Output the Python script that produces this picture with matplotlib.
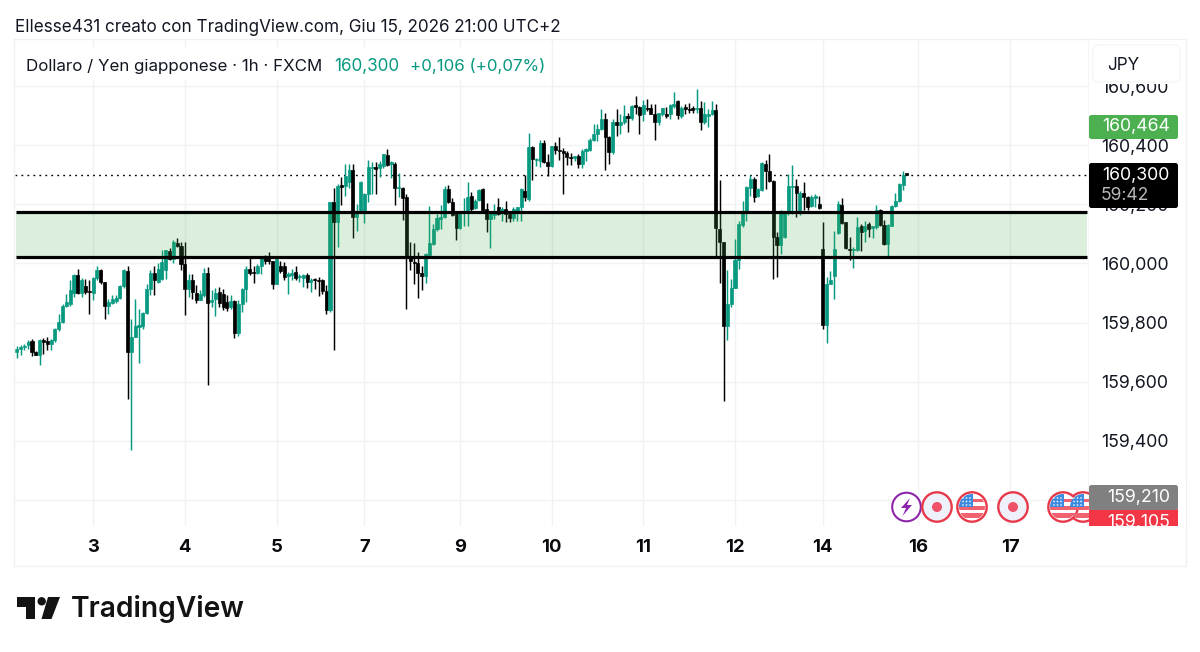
import matplotlib
matplotlib.use('Agg')
import matplotlib.pyplot as plt
from matplotlib.patches import Circle, FancyBboxPatch, Polygon, Rectangle
import numpy as np

plt.rcParams['font.family'] = ['Inter', 'DejaVu Sans']

# prices as offset from 160000 (thousandths of a yen)
BASE = 160000
opens = [-299,-290,-284,-276,-262,-301,-308,-260,-263,-271,
         -260,-223,-198,-144,-138,-100,-40,-100,-76,-93,
         -100,-48,-21,-61,-145,-134,-128,-116,-77,-24,
         -301,-248,-215,-212,-166,-85,-33,-63,-52,-21,
         42,16,70,58,-1,-85,-57,-99,-122,-108,
         -33,-130,-119,-97,-102,-130,-147,-127,-235,-138,
         -85,-18,-29,-33,-7,24,16,7,-69,-7,
         -9,-44,-40,-29,-46,-48,-40,-63,-54,-55,
         -57,-93,
         -159,207,139,265,263,274,316,158,
         179,181,235,323,327,323,330,367,336,338,
         255,257,224,23,6,2,-33,-44,30,66,
         115,151,158,252,207,173,120,170,176,229,
         188,215,252,184,151,165,192,170,184,167,
         154,179,190,246,218,394,350,347,409,342,
         330,396,383,379,375,361,356,364,338,379,
         383,418,437,454,490,429,378,479,467,479,
         499,491,536,529,505,527,525,507,480,505,
         505,505,533,550,499,529,521,525,524,527,
         480,499,505,518,117,72,-211,-136,-82,12,
         131,173,257,285,227,249,336,313,280,89,
         61,89,170,260,263,173,240,224,195,221,
         201,49,-207,-69,-41,102,199,139,49,44,
         44,126,111,134,120,122,181,131,66,128,
         195,210,266,306]
closes = [-288,-282,-279,-265,-299,-308,-260,-265,-273,-260,
          -223,-198,-144,-130,-91,-40,-99,-57,-97,-96,
          -48,-21,-63,-145,-130,-119,-116,-77,-21,-301,
          -248,-212,-209,-166,-85,-33,-57,-18,5,44,
          16,72,58,-1,-85,-57,-97,-125,-104,-33,
          -133,-125,-100,-133,-147,-151,-127,-235,-138,-85,
          -18,-33,-33,-7,21,8,8,-69,16,-27,
          -46,-37,-31,-48,-42,-39,-63,-55,-57,-60,
          -94,-158,
          207,139,263,260,297,316,158,176,
          274,235,327,327,319,336,370,334,342,257,
          260,221,23,8,2,-33,-44,32,70,117,
          153,158,252,207,164,120,173,176,226,184,
          212,249,181,151,173,176,167,184,167,154,
          184,190,252,224,394,353,355,409,342,330,
          396,384,379,374,361,356,362,338,381,387,
          418,437,454,490,429,378,480,467,480,499,
          491,533,529,502,536,521,507,480,508,525,
          500,536,541,501,527,521,518,518,527,480,
          505,505,518,119,72,-211,-136,-82,12,134,
          173,260,285,226,252,339,313,278,89,61,
          179,173,263,263,237,240,226,192,226,229,
          188,-207,-69,-57,49,201,136,52,44,49,
          125,106,128,117,126,181,131,66,131,195,
          210,269,299,300]
highs = [-280,-276,-273,-260,-257,-296,-257,-252,-248,-255,
         -217,-170,-136,-102,-57,-37,-18,-48,-54,-57,
         -46,-7,-18,-61,-119,-106,-108,-74,-18,-9,
         -187,-119,-153,-164,-71,-21,-7,1,44,44,
         53,78,87,72,72,-37,-37,-74,-91,-15,
         -12,-91,-82,-78,-85,-108,-108,-125,-125,-82,
         -7,18,-7,-1,27,30,38,10,19,8,
         4,-29,-18,-10,-35,-37,-31,-48,-49,-46,
         -52,-74,
         207,257,269,293,336,336,336,201,
         278,237,349,342,342,347,372,387,347,342,
         305,260,235,72,70,38,-7,35,196,134,
         167,199,263,266,220,175,179,221,274,243,
         218,252,254,203,179,201,220,190,210,175,
         192,192,255,299,440,398,356,417,417,370,
         398,412,428,389,379,375,364,370,387,392,
         424,471,473,521,508,431,488,521,505,536,
         510,536,566,533,552,555,538,538,510,527,
         529,541,581,552,533,538,544,533,589,550,
         546,521,550,541,283,74,-21,-52,83,143,
         212,263,300,291,257,342,349,370,282,106,
         181,176,302,333,285,246,274,229,233,235,
         229,139,-46,-26,111,210,221,142,89,55,
         156,134,143,139,128,199,184,147,134,199,
         240,271,314,306]
lows = [-319,-308,-293,-288,-312,-310,-344,-305,-293,-291,
        -265,-228,-201,-147,-143,-114,-102,-114,-102,-172,
        -122,-57,-69,-187,-170,-138,-134,-119,-82,-459,
        -630,-248,-336,-220,-170,-108,-108,-66,-57,-52,
        13,1,55,-21,-173,-114,-119,-133,-125,-114,
        -411,-147,-178,-147,-156,-161,-155,-253,-246,-164,
        -130,-40,-65,-37,-35,-1,-1,-85,-69,-33,
        -57,-104,-57,-55,-63,-80,-82,-97,-85,-110,
        -102,-170,
        -164,-291,57,199,229,257,86,109,
        173,136,207,235,235,291,323,330,289,199,
        224,147,-153,-21,-71,-117,-89,-66,27,61,
        111,117,154,203,162,80,117,128,128,170,
        184,212,179,106,53,151,165,143,142,139,
        145,143,143,210,212,283,330,327,339,297,
        327,370,349,235,334,334,347,323,323,347,
        379,415,415,451,316,336,370,431,439,471,
        446,484,505,437,482,516,505,418,469,499,
        493,488,527,488,491,505,510,510,510,451,
        471,463,501,27,-65,-465,-260,-147,-82,-18,
        122,145,229,207,224,246,252,274,-52,-46,
        32,86,165,167,158,165,181,181,190,192,
        184,-220,-269,-69,-119,100,134,49,12,-15,
        41,41,72,89,86,117,128,64,27,126,
        192,207,248,300]

day_ticks = [20, 44, 68, 91, 116, 140, 164, 188, 211, 236, 260]
day_labels = ['3', '4', '5', '7', '9', '10', '11', '12', '14', '16', '17']
price_ticks = [600, 400, 200, 0, -200, -400, -600, -800]
price_labels = ['160,600', '160,400', '160,200', '160,000', '159,800', '159,600', '159,400', '']
zone_top, zone_bottom = 173, 23
last_price = 300

GREEN = '#089981'
W, H = 1200, 652

fig = plt.figure(figsize=(12, 6.52), dpi=100, facecolor='white')
# main pane 15..1088 x 40..526 in pixels
ax = fig.add_axes([15 / W, 1 - 526 / H, 1073 / W, 486 / H])
ax.set_xlim(-0.45, 280.4)
ax.set_ylim(-888, 756)
for s in ax.spines.values():
    s.set_visible(False)

ax.set_axisbelow(True)
ax.grid(True, color='#f1f2f4', lw=1.0)
ax.set_xticks(day_ticks)
ax.set_xticklabels(day_labels, fontsize=13.3, fontweight='bold', color='#0b0b0f')
ax.yaxis.tick_right()
ax.set_yticks(price_ticks)
ax.set_yticklabels(price_labels, fontsize=12.8, color='#131722')
ax.tick_params(axis='both', length=0)
ax.tick_params(axis='x', pad=9.5)
ax.tick_params(axis='y', pad=9.5)

idx = np.arange(len(opens))
o = np.array(opens)
c = np.array(closes)
colors = ['#000000' if c[i] < o[i] else GREEN for i in idx]
ax.vlines(idx, lows, highs, colors=colors, lw=1.05, zorder=3)
ax.bar(idx, np.abs(c - o), bottom=np.minimum(o, c), width=0.8, color=colors,
       edgecolor=colors, lw=0.5, zorder=4)

# support zone
ax.fill_between([-0.2, 280.2], zone_bottom, zone_top, color='#4caf50', alpha=0.2, lw=0, zorder=5)
ax.hlines([zone_top, zone_bottom], -0.2, 280.2, colors='black', lw=2.3, zorder=6)
ax.axhline(last_price, color='black', lw=1.0, ls=(0, (1.3, 3.0)), zorder=2)

# overlay in pixel coordinates for the TradingView chrome
ov = fig.add_axes([0, 0, 1, 1], zorder=10)
ov.set_xlim(0, W)
ov.set_ylim(H, 0)
ov.axis('off')
ov.patch.set_alpha(0)


def py(offset):
    return 263.5 - offset / 3.384


def box(x0, y0, x1, y1, face, edge='none', r=2.5):
    p = FancyBboxPatch((x0 + r, y0 + r), x1 - x0 - 2 * r, y1 - y0 - 2 * r,
                       boxstyle='round,pad=%f,rounding_size=%f' % (r, r),
                       fc=face, ec=edge, lw=0.7, zorder=4)
    ov.add_patch(p)
    return p


ov.add_patch(Rectangle((14, 39), 1172, 526.5, fc='none', ec='#f0f0f0', lw=1))
ov.add_line(plt.Line2D([1088, 1088], [39, 526], color='#f5f5f5', lw=0.8))

ov.text(15, 27.5, 'Ellesse431 creato con TradingView.com, Giu 15, 2026 21:00 UTC+2',
        fontsize=12.3, color='#131722', va='center')
ov.add_patch(Rectangle((16, 48), 534, 32, fc='white', ec='none'))
ov.text(26, 66, 'Dollaro / Yen giapponese · 1h · FXCM', fontsize=12.2, color='#131722', va='center')
ov.text(334, 66, '160,300', fontsize=12.3, color=GREEN, va='center')
ov.text(410, 66, '+0,106 (+0,07%)', fontsize=12.2, color=GREEN, va='center')

ov.add_patch(Rectangle((1089, 40), 96, 43.5, fc='white', ec='none', zorder=3.5))
box(1093, 45, 1180, 82, 'white', '#f3f3f3', r=5)
ov.text(1107, 65.5, 'JPY', fontsize=12.3, color='#131722', va='center', zorder=5)

# price badges
box(1089, 115, 1178, 139, '#4caf50')
ov.text(1170, py(464) + 0.5, '160,464', fontsize=12.8, color='white', ha='right', va='center', zorder=5)
box(1089, 163, 1178, 208, 'black')
ov.text(1170, py(last_price) + 0.5, '160,300', fontsize=12.8, color='white', ha='right', va='center', zorder=5)
ov.text(1101, 196, '59:42', fontsize=12.6, color='#b8b8b8', va='center', zorder=5)


# event icons on the time scale
def flag(x, y):
    ring = Circle((x, y), 14.7, fc='white', ec='#e8394a', lw=1.7, zorder=3)
    ov.add_patch(ring)
    disc = Circle((x, y), 13, transform=ov.transData)
    for top, hgt in [(-8.5, 3.5), (-1, 3.5), (6, 4.5)]:
        st = Rectangle((x - 14, y + top), 28, hgt, fc='#f0626e', ec='none', zorder=3.1)
        ov.add_patch(st)
        st.set_clip_path(disc)
    can = Rectangle((x - 14, y - 14), 15, 14, fc='#3d8be0', ec='none', zorder=3.2)
    ov.add_patch(can)
    can.set_clip_path(disc)
    for sx in (-9, -5.5, -2):
        for sy in (-9, -5.5, -2):
            ov.add_patch(Circle((x + sx, y + sy), 0.8, fc='white', ec='none', zorder=3.3))


def dot(x, y):
    ov.add_patch(Circle((x, y), 14.7, fc='#eef1f9', ec='#e8394a', lw=1.7, zorder=3))
    ov.add_patch(Circle((x, y), 5, fc='#f0526a', ec='none', zorder=3.1))


ov.add_patch(Circle((906.5, 507), 14.3, fc='white', ec='#8e24aa', lw=1.5, zorder=3))
ov.add_patch(Polygon([[910, 498], [901, 508], [906, 508], [902.5, 516], [912, 505], [907, 505]],
                     fc='#8e24aa', ec='none', zorder=3.1))
dot(937, 507)
flag(972, 507)
dot(1013, 507)
flag(1083, 507)
flag(1063, 507)
# keep the later flag on top of the one it overlaps, and the scale on top of both
ov.add_patch(Rectangle((1089, 480), 97, 50, fc='white', ec='none', zorder=3.9))

red = box(1089, 508, 1178, 535, '#f23645')
clip = Rectangle((1080, 480), 110, 46, transform=ov.transData)
red.set_clip_path(clip)
box(1089, 485, 1178, 510, '#808080')
ov.text(1170, 497.5, '159,210', fontsize=12.8, color='white', ha='right', va='center', zorder=5)
rt = ov.text(1170, 522.5, '159,105', fontsize=12.8, color='white', ha='right', va='center', zorder=5)
rt.set_clip_path(clip)

# logo
ov.add_patch(Polygon([[17, 597], [35, 597], [35, 619], [26, 619], [26, 607], [17, 607]], fc='#131313', ec='none'))
ov.add_patch(Circle((41.7, 601.3), 4.2, fc='#131313', ec='none'))
ov.add_patch(Polygon([[48, 597], [60, 597], [51.5, 619], [41.5, 619]], fc='#131313', ec='none'))
ov.text(71, 609, 'TradingView', fontsize=20.3, fontweight='semibold', color='#131313', va='center')

fig.savefig('out.png', dpi=100)
